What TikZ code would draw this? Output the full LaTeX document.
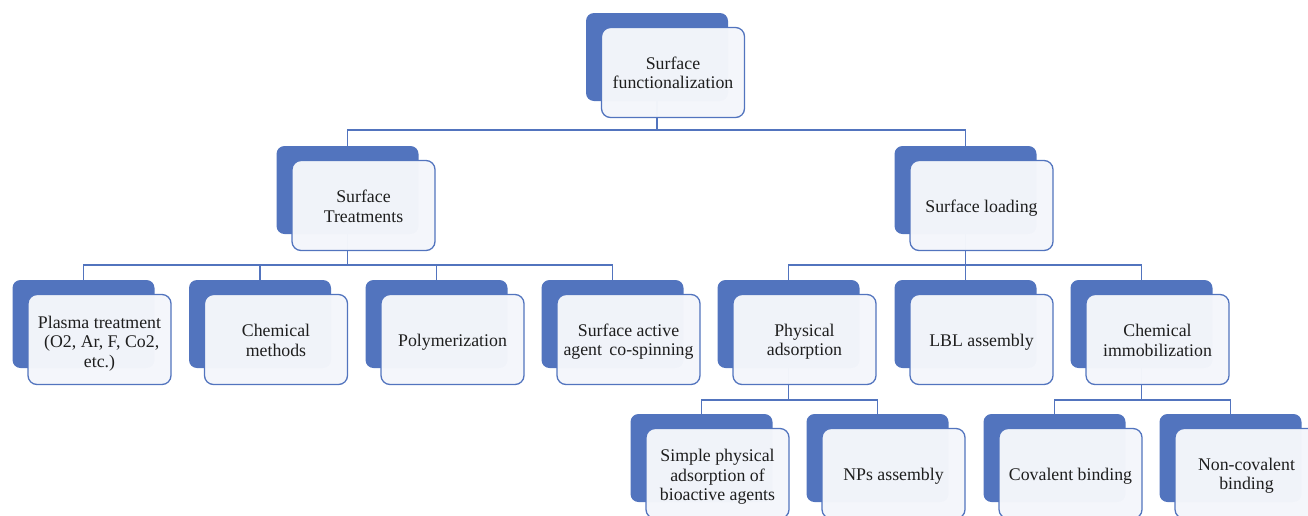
\documentclass[tikz,border=0pt]{standalone}
\usepackage{fontspec}
\setmainfont{Liberation Serif}
\usetikzlibrary{backgrounds}
\definecolor{bblue}{RGB}{82,116,190}
\definecolor{lfill}{RGB}{244,246,251}
\definecolor{txt}{RGB}{30,30,30}
\tikzset{
  backbox/.style={fill=bblue, draw=none, rounded corners=8pt, minimum width=142pt, minimum height=88pt, inner sep=0pt},
  frontbox/.style={draw=bblue, line width=1.3pt, fill=lfill, fill opacity=0.98,
    rounded corners=9pt, minimum width=143pt, minimum height=90pt, inner sep=0pt},
  boxtext/.style={inner sep=0pt, align=center, font=\fontsize{17.8}{19.5}\selectfont, text=txt},
  conn/.style={draw=bblue, line width=1.5pt},
}
% name, back-x, back-y, text, text shift down
\newcommand\dbox[5]{%
  \node[backbox] (#1b) at (#2,#3) {};
  \node[frontbox] (#1) at (#2+16,#3+15.5) {};
  \node[boxtext] (#1t) at ([yshift=-#5pt]#1.center) {#4};}
\begin{document}
\begin{tikzpicture}[x=1pt,y=-1pt]
\path[use as bounding box] (0,0) rectangle (1308,515);
\clip (0,0) rectangle (1308,515);
% level 1
\dbox{top}{657}{57}{Surface\\functionalization}{0.5}
% level 2
\dbox{st}{347.5}{190}{Surface\\Treatments}{1}
\dbox{sl}{965.5}{190}{Surface loading}{3}
% level 3
\dbox{pt}{83.5}{324}{Plasma treatment\\\ (O2, Ar, F, Co2,\\etc.)}{4}
\dbox{cm}{260}{324}{Chemical\\methods}{1}
\dbox{po}{436.5}{324}{Polymerization}{3}
\dbox{sa}{612.5}{324}{Surface active\\agent\, co-spinning}{2}
\dbox{pa}{788.5}{324}{Physical\\adsorption}{2}
\dbox{lbl}{965.5}{324}{LBL assembly}{3}
\dbox{ci}{1141.5}{324}{Chemical\\immobilization}{1}
% level 4
\dbox{sp}{701.5}{458}{Simple physical\\adsorption of\\bioactive agents}{3.5}
\dbox{np}{877.5}{458}{NPs assembly}{3}
\dbox{cb}{1054.5}{458}{Covalent binding}{3}
\dbox{nc}{1230.5}{458}{Non-covalent\\binding}{2}
\begin{scope}[on background layer]
\draw[conn] (topb.south) -- ++(0,29) -| (stb.north);
\draw[conn] (topb.south) -- ++(0,29) -| (slb.north);
\foreach \c in {pt,cm,po,sa}{\draw[conn] (stb.south) -- ++(0,31) -| (\c b.north);}
\foreach \c in {pa,lbl,ci}{\draw[conn] (slb.south) -- ++(0,31) -| (\c b.north);}
\foreach \c in {sp,np}{\draw[conn] (pab.south) -- ++(0,32) -| (\c b.north);}
\foreach \c in {cb,nc}{\draw[conn] (cib.south) -- ++(0,32) -| (\c b.north);}
\end{scope}
\end{tikzpicture}
\end{document}
